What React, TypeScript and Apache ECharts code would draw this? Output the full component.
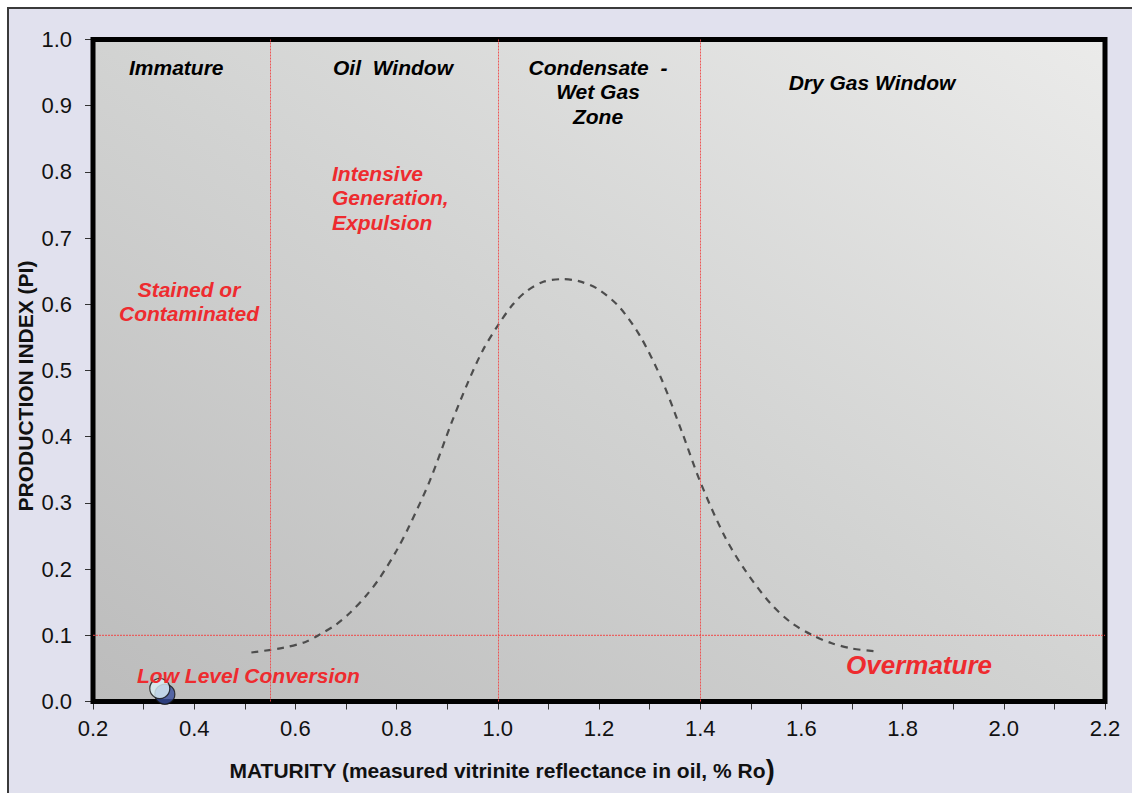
import React, { useEffect, useRef } from "react";
import * as echarts from "echarts";

const FONT = "'Liberation Sans', Arial, Helvetica, sans-serif";

// Dashed maturity curve (x = %Ro, y = PI)
const curveX = [0.513, 0.575, 0.62, 0.65, 0.68, 0.708, 0.74, 0.766, 0.8, 0.825, 0.866, 0.908, 0.941, 0.97, 1.001, 1.03, 1.057, 1.09, 1.128, 1.16, 1.198, 1.24, 1.282, 1.323, 1.365, 1.4, 1.448, 1.489, 1.539, 1.58, 1.622, 1.66, 1.7, 1.743];
const curveY = [0.074, 0.081, 0.09, 0.102, 0.116, 0.134, 0.16, 0.186, 0.228, 0.265, 0.334, 0.42, 0.482, 0.53, 0.569, 0.6, 0.62, 0.634, 0.638, 0.635, 0.623, 0.596, 0.551, 0.488, 0.405, 0.332, 0.25, 0.198, 0.148, 0.119, 0.1, 0.088, 0.08, 0.076];

// Sample points
const sampleX = [0.342, 0.332];
const sampleY = [0.011, 0.0196];
const sampleColors = ["#3a4f9e", "#dcf1f6"];

// Zone boundaries and threshold
const zoneBoundariesX = [0.55, 1.0, 1.4];
const thresholdY = 0.1;

// Axis ranges
const xMin = 0.2, xMax = 2.2, xStep = 0.2;
const yMin = 0, yMax = 1.0, yStep = 0.1;

export default function App() {
  const ref = useRef<HTMLDivElement>(null);
  useEffect(() => {
    if (!ref.current) return;
    const chart = echarts.init(ref.current, null, { renderer: "svg" });
    const red = "#ee2b2f";
    const gridRed = "#f04848";
    const txt = (x: number, y: number, text: string, color: string, size: number, align: string, vAlign = "middle", lineHeight?: number) => ({
      type: "text",
      x,
      y,
      z: 10,
      silent: true,
      style: {
        text,
        fill: color,
        font: `italic bold ${size}px ${FONT}`,
        align,
        verticalAlign: vAlign,
        lineHeight: lineHeight || size * 1.2,
      },
    });
    const redLine = { color: gridRed, width: 1, type: [2, 1], opacity: 0.9 };
    chart.setOption({
      animation: false,
      backgroundColor: "#ffffff",
      textStyle: { fontFamily: FONT },
      grid: {
        left: 93,
        top: 39.5,
        right: 27,
        bottom: 91.5,
        show: true,
        borderColor: "#000",
        borderWidth: 5,
        backgroundColor: new echarts.graphic.LinearGradient(0, 1, 1, 0, [
          { offset: 0, color: "#bcbcbc" },
          { offset: 0.5, color: "#d2d3d2" },
          { offset: 1, color: "#ebebea" },
        ]),
        z: 1,
      },
      xAxis: {
        type: "value",
        min: xMin,
        max: xMax,
        interval: xStep,
        axisLine: { show: false },
        axisTick: { show: true, length: 8, lineStyle: { color: "#333", width: 1 } },
        minorTick: { show: true, splitNumber: 2, length: 8, lineStyle: { color: "#333", width: 1 } },
        splitLine: { show: false },
        axisLabel: {
          fontSize: 22,
          color: "#111",
          margin: 16,
          fontFamily: FONT,
          formatter: (v: number) => v.toFixed(1),
        },
      },
      yAxis: {
        type: "value",
        min: yMin,
        max: yMax,
        interval: yStep,
        axisLine: { show: false },
        axisTick: { show: true, length: 8, lineStyle: { color: "#333", width: 1 } },
        splitLine: { show: false },
        axisLabel: {
          fontSize: 22,
          color: "#111",
          margin: 21,
          fontFamily: FONT,
          formatter: (v: number) => v.toFixed(1),
        },
      },
      graphic: [
        {
          type: "rect",
          shape: { x: 8, y: 8, width: 1200, height: 900 },
          style: { fill: "#e1e1ee", stroke: "#3a3a3a", lineWidth: 2 },
          z: -10,
          silent: true,
        },
        txt(129, 67, "Immature", "#000", 21, "left"),
        txt(333, 67, "Oil  Window", "#000", 21, "left"),
        txt(598, 55, "Condensate  -\nWet Gas\nZone", "#000", 21, "center", "top", 24.5),
        txt(872, 82, "Dry Gas Window", "#000", 21, "center"),
        txt(332, 161, "Intensive\nGeneration,\nExpulsion", red, 21, "left", "top", 24.5),
        txt(189, 277, "Stained or\nContaminated", red, 21, "center", "top", 24),
        txt(137, 675, "Low Level Conversion", red, 21, "left"),
        txt(846, 665, "Overmature", red, 26, "left"),
        {
          type: "text",
          x: 502,
          y: 770,
          z: 10,
          silent: true,
          style: {
            text: "{a|MATURITY (measured vitrinite reflectance in oil, % Ro}{b|)}",
            align: "center",
            verticalAlign: "middle",
            rich: {
              a: { font: `bold 21px ${FONT}`, fill: "#111" },
              b: { font: `bold 27px ${FONT}`, fill: "#111" },
            },
          },
        },
        {
          type: "text",
          x: 25,
          y: 386,
          rotation: Math.PI / 2,
          z: 10,
          silent: true,
          style: {
            text: "PRODUCTION INDEX (PI)",
            font: `bold 21px ${FONT}`,
            fill: "#111",
            align: "center",
            verticalAlign: "middle",
          },
        },
      ],
      series: [
        {
          type: "line",
          data: [
            [xMin, thresholdY],
            [xMax, thresholdY],
          ],
          symbol: "none",
          silent: true,
          z: 2,
          lineStyle: { color: gridRed, width: 1, type: [2, 1] },
          markLine: {
            silent: true,
            symbol: ["none", "none"],
            label: { show: false },
            lineStyle: redLine,
            data: zoneBoundariesX.map((x) => ({ xAxis: x, lineStyle: redLine })),
          },
        },
        {
          type: "line",
          data: curveX.map((x, i) => [x, curveY[i]]),
          smooth: 0.3,
          symbol: "none",
          lineStyle: { color: "#4d4d4d", width: 2.2, type: [7, 6] },
          z: 3,
          silent: true,
        },
        {
          type: "scatter",
          symbolSize: 20,
          z: 4,
          silent: true,
          data: sampleX.map((x, i) => ({
            value: [x, sampleY[i]],
            itemStyle: { color: sampleColors[i], borderColor: "#111", borderWidth: 1.2 },
          })),
        },
      ],
    });
    return () => chart.dispose();
  }, []);
  return (
    <div
      ref={ref}
      style={{ position: "fixed", left: 0, top: 0, width: 1132, height: 793 }}
    />
  );
}
